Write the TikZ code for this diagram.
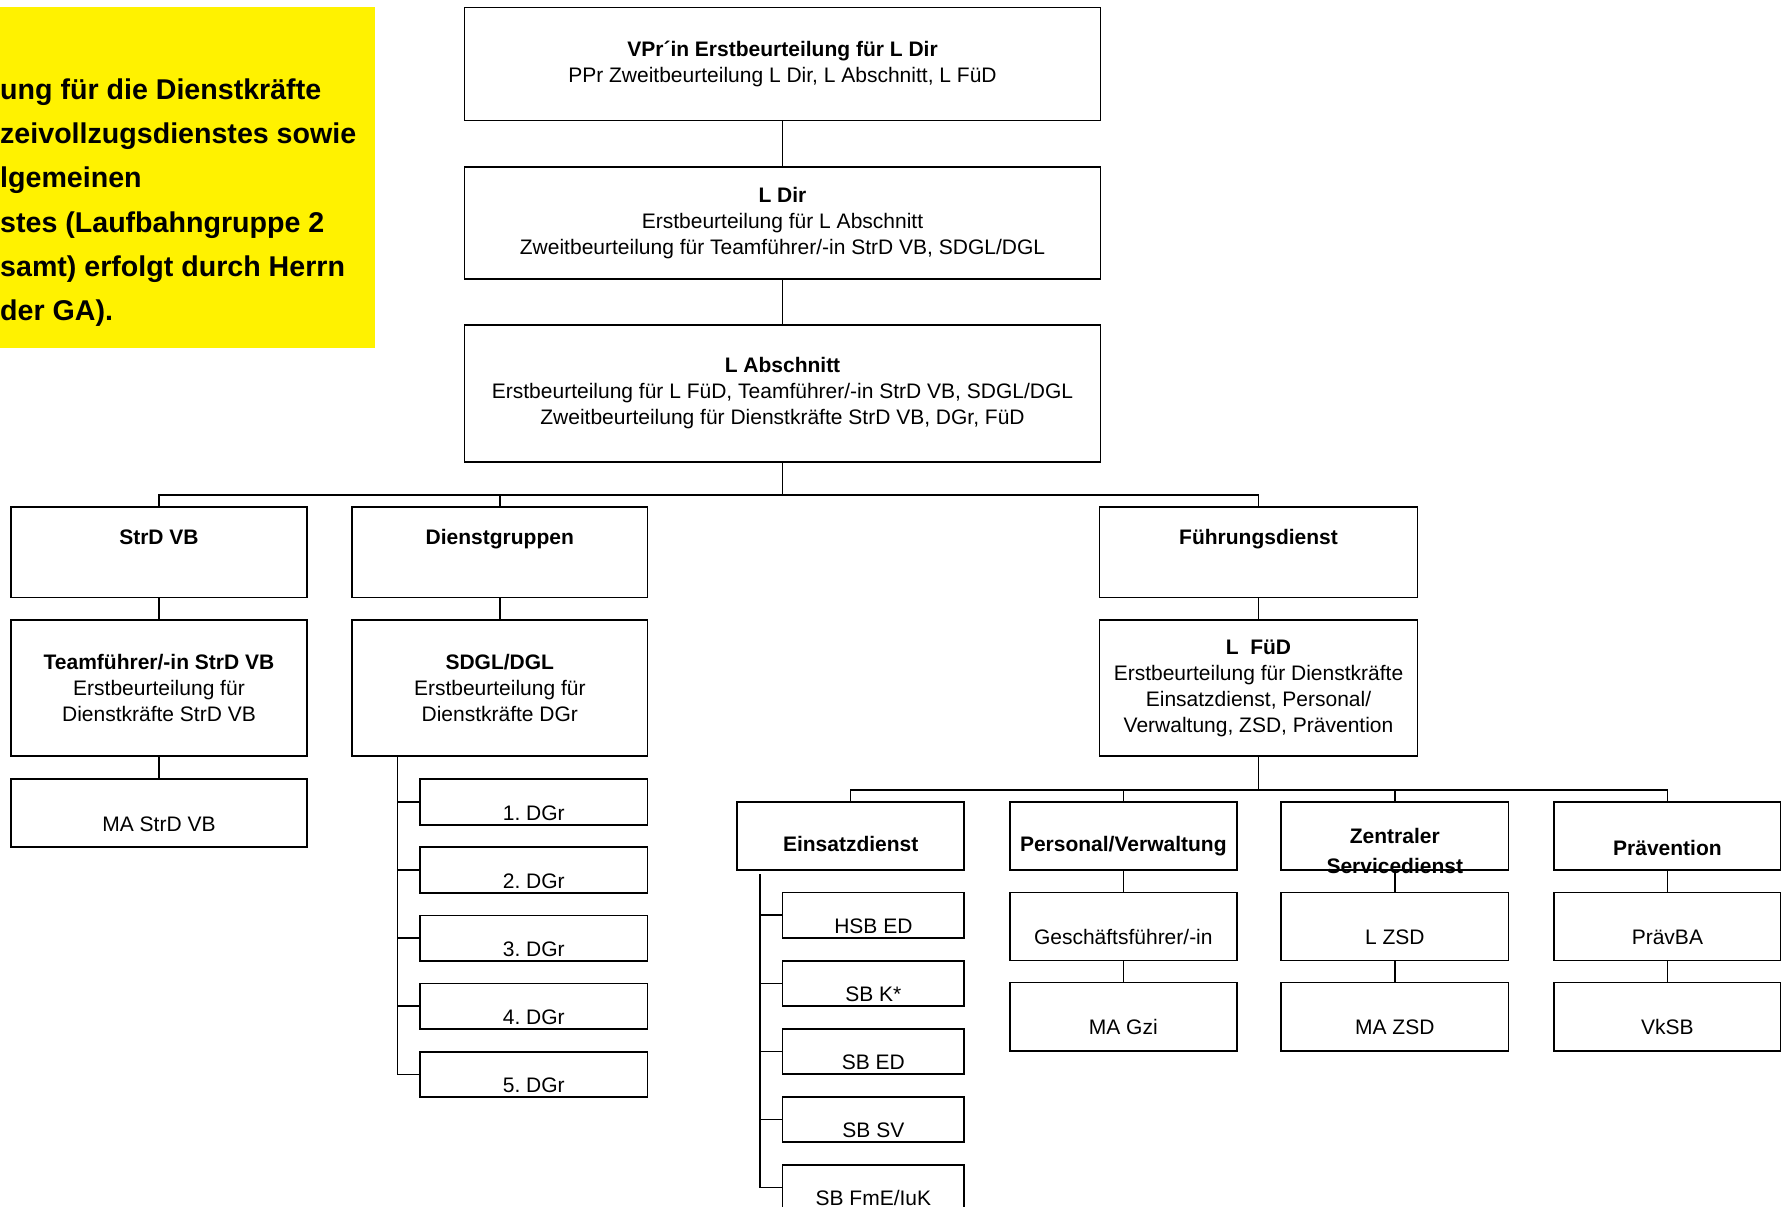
\documentclass[tikz,border=0pt]{standalone}
\usepackage{fontspec}
\setmainfont{Liberation Sans}
\frenchspacing
\newcommand{\boxfont}{\fontsize{21}{26}\selectfont}
\newcommand{\notefont}{\fontsize{28.6}{44.2}\selectfont\bfseries}

\begin{document}
\begin{tikzpicture}[
    x=1pt, y=-1pt,
    box/.style={draw, line width=1.8pt, inner sep=0pt, align=center, font=\boxfont},
    chief/.style={box, minimum width=636pt},
    unit/.style={box, font=\boxfont\bfseries, minimum width=295.3pt, text height=37.6pt, text depth=53.2pt},
    lead/.style={box, minimum width=295.3pt, minimum height=136.3pt},
    branch/.style={box, font=\boxfont\bfseries, minimum width=227.2pt, text height=49.6pt, text depth=18.5pt},
    staff/.style={box, minimum width=227.2pt, text height=52pt, text depth=16.1pt},
    slot/.style={box, minimum width=227.2pt, text height=40.8pt, text depth=4.6pt},
    link/.style={line width=1.5pt}
]
    \useasboundingbox (0,0) rectangle (1781,1207);

    % --- Hinweis ---
    \node[fill=yellow, inner sep=0pt, minimum width=375pt, minimum height=341pt, anchor=north west] (memo) at (0,7) {};
    \node[font=\notefont, align=left, inner sep=0pt, anchor=north west] (memotext) at (0,78.5)
        {ung für die Dienstkräfte\\zeivollzugsdienstes sowie\\lgemeinen\\stes (Laufbahngruppe 2\\samt) erfolgt durch Herrn\\der GA).};

    % --- Leitung ---
    \node[chief, minimum height=113pt] (vpr) at (782.5,64) {\textbf{VPr´in Erstbeurteilung für L Dir}\\PPr Zweitbeurteilung L Dir, L Abschnitt, L FüD};
    \node[chief, minimum height=112.6pt] (ldir) at (782.5,223) {\textbf{L Dir}\\Erstbeurteilung für L Abschnitt\\Zweitbeurteilung für Teamführer/-in StrD VB, SDGL/DGL};
    \node[chief, minimum height=136.7pt] (labs) at (782.5,393.3) {\textbf{L Abschnitt}\\Erstbeurteilung für L FüD, Teamführer/-in StrD VB, SDGL/DGL\\Zweitbeurteilung für Dienstkräfte StrD VB, DGr, FüD};
    \draw[link] (vpr) -- (ldir);
    \draw[link] (ldir) -- (labs);

    % --- Bereiche ---
    \node[unit] (strd) at (159,552) {StrD VB};
    \node[unit] (dgrp) at (499.8,552) {Dienstgruppen};
    \node[unit, minimum width=318pt] (fued) at (1258.5,552) {Führungsdienst};
    \coordinate (bus1) at (782.5,495);
    \draw[link] (labs) -- (bus1) -| (strd);
    \draw[link] (bus1) -| (dgrp);
    \draw[link] (bus1) -| (fued);

    % --- Leiter der Bereiche ---
    \node[lead] (team) at (159,688.2) {\textbf{Teamführer/-in StrD VB}\\Erstbeurteilung für\\Dienstkräfte StrD VB};
    \node[lead] (sdgl) at (499.8,688.2) {\textbf{SDGL/DGL}\\Erstbeurteilung für\\Dienstkräfte DGr};
    \node[lead, minimum width=318pt] (lfued) at (1258.5,688.2) {\textbf{L~~FüD}\\Erstbeurteilung für Dienstkräfte\\Einsatzdienst, Personal/\\Verwaltung, ZSD, Prävention};
    \draw[link] (strd) -- (team);
    \draw[link] (dgrp) -- (sdgl);
    \draw[link] (fued) -- (lfued);

    % --- StrD VB ---
    \node[staff, minimum width=295.3pt] (mastr) at (159,813.2) {MA StrD VB};
    \draw[link] (team) -- (mastr);

    % --- Dienstgruppen ---
    \node[slot] (dg1) at (533.8,801.9) {1. DGr};
    \node[slot] (dg2) at (533.8,870) {2. DGr};
    \node[slot] (dg3) at (533.8,938.1) {3. DGr};
    \node[slot] (dg4) at (533.8,1006.2) {4. DGr};
    \node[slot] (dg5) at (533.8,1074.3) {5. DGr};
    \coordinate (dgspine) at (397.5,756.4);
    \draw[link] (dgspine) |- (dg1);
    \draw[link] (dgspine) |- (dg2);
    \draw[link] (dgspine) |- (dg3);
    \draw[link] (dgspine) |- (dg4);
    \draw[link] (dgspine) |- (dg5);

    % --- Führungsdienst ---
    \node[branch] (ed) at (850.7,836) {Einsatzdienst};
    \node[branch] (pv) at (1123.3,836) {Personal/Verwaltung};
    \node[branch, text height=41.6pt, text depth=26.5pt] (zsd) at (1394.8,836) {\begin{tabular}[t]{@{}c@{}}Zentraler\\[4pt]Servicedienst\end{tabular}};
    \node[branch, text height=54pt, text depth=14.1pt] (prv) at (1667.4,836) {Prävention};
    \coordinate (bus2) at (1258.5,790);
    \draw[link] (lfued) -- (bus2) -| (ed);
    \draw[link] (bus2) -| (pv);
    \draw[link] (bus2) -| (zsd);
    \draw[link] (bus2) -| (prv);

    % --- Einsatzdienst ---
    \node[slot, minimum width=181.7pt] (hsb) at (873.4,915.2) {HSB ED};
    \node[slot, minimum width=181.7pt] (sbk) at (873.4,983.3) {SB K*};
    \node[slot, minimum width=181.7pt] (sbed) at (873.4,1051.4) {SB ED};
    \node[slot, minimum width=181.7pt] (sbsv) at (873.4,1119.5) {SB SV};
    \node[slot, minimum width=181.7pt] (sbfme) at (873.4,1187.6) {SB FmE/IuK};
    \coordinate (edspine) at (760,874);
    \draw[link] (edspine) |- (hsb);
    \draw[link] (edspine) |- (sbk);
    \draw[link] (edspine) |- (sbed);
    \draw[link] (edspine) |- (sbsv);
    \draw[link] (edspine) |- (sbfme);

    % --- Personal/Verwaltung, ZSD, Prävention ---
    \node[staff] (gf) at (1123.3,926.5) {Geschäftsführer/-in};
    \node[staff] (magzi) at (1123.3,1016.6) {MA Gzi};
    \node[staff] (lzsd) at (1394.8,926.5) {L ZSD};
    \node[staff] (mazsd) at (1394.8,1016.6) {MA ZSD};
    \node[staff] (praevba) at (1667.4,926.5) {PrävBA};
    \node[staff] (vksb) at (1667.4,1016.6) {VkSB};
    \draw[link] (pv) -- (gf);
    \draw[link] (gf) -- (magzi);
    \draw[link] (zsd) -- (lzsd);
    \draw[link] (lzsd) -- (mazsd);
    \draw[link] (prv) -- (praevba);
    \draw[link] (praevba) -- (vksb);
\end{tikzpicture}
\end{document}
